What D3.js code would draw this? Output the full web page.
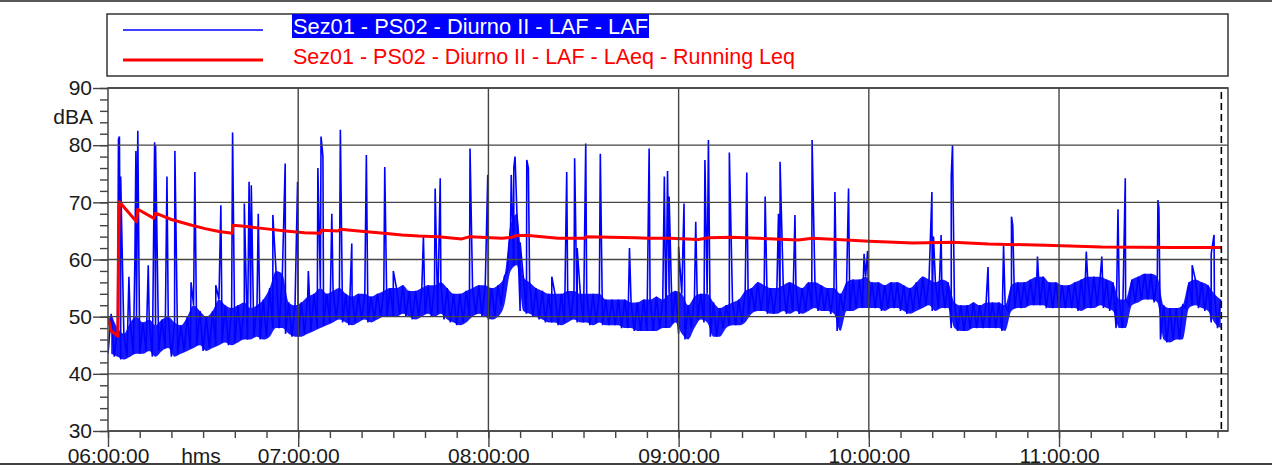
<!DOCTYPE html>
<html>
<head>
<meta charset="utf-8">
<script src="https://cdn.jsdelivr.net/npm/d3@7/dist/d3.min.js"></script>
<style>
  body { margin: 0; background: #fff; }
  svg { display: block; font-family: "Liberation Sans", Arial, sans-serif; }
</style>
</head>
<body>
<div id="chart"></div>
<script>
// series names (legend)
const seriesNames = [
  "Sez01 - PS02 - Diurno II - LAF - LAF",
  "Sez01 - PS02 - Diurno II - LAF - LAeq - Running Leq"
];

// x axis: minutes after 06:00:00
const xTickMinutes = [0, 60, 120, 180, 240, 300];
const xTickLabels = ["06:00:00", "07:00:00", "08:00:00", "09:00:00", "10:00:00", "11:00:00"];
const xMinorStep = 10;
const xMax = 353.3;
const dataEnd = 351.2;

// y axis
const yTicks = [30, 40, 50, 60, 70, 80, 90];
const yMinorStep = 2;
const yUnit = "dBA";
const xUnit = "hms";

// LAF band, one low/high pair every 2 minutes
const bandStep = 2;
const bandLow = [
  43.5, 43, 42.5, 43, 43.5,   43.5, 44, 43, 44, 44.5,
  43, 43.5, 44, 44.5, 45,     44, 44.5, 45, 45.5, 45,
  45.5, 46, 46, 46.5, 46,     46.5, 48, 48, 47, 46.5,
  46.5, 47, 47.5, 48, 48.5,   49, 49.5, 49, 48.5, 49,
  49.5, 49, 49.5, 50, 50,     50, 50.5, 50, 49.5, 50,
  50.5, 50, 50.5, 49.5, 49,   48.5, 49, 50, 50.5, 50,
  49.5, 50, 52, 58, 59,       51, 50.5, 50, 49.5, 49,
  49, 48.5, 49, 49.5, 49,     49, 48.5, 49, 48.5, 48.5,
  48.5, 48, 48, 47.5, 47.5,   47.5, 47.5, 48, 48, 49,
  47, 46, 48, 49.5, 49,       46.5, 46.5, 48, 48.5, 48.5,
  49, 50.5, 51, 51, 50.5,     50.5, 51, 50.5, 51, 50.5,
  51, 51.5, 51, 51, 50.5,     47.5, 51, 51, 51.5, 51.5,
  51.5, 51.5, 51, 51.5, 51.5, 51, 50.5, 51, 51.5, 52,
  51, 51.5, 51.5, 48, 47.5,   47.5, 48, 48, 48, 48,
  48, 47.5, 51, 51.5, 51.5,   52, 52, 52, 51.5, 51.5,
  51.5, 51.5, 51.5, 51, 51.5, 51.5, 52, 51.5, 51, 48,
  48, 52, 52.5, 53, 53,       52.5, 46, 45.5, 46, 46,
  51.5, 52, 51.5, 51, 49, 48
];
const bandHigh = [
  50.5, 48, 47, 49, 50,       49, 49.5, 48.5, 49.5, 50,
  49, 48.5, 50, 52, 51,       50, 51, 53, 52, 51.5,
  52, 52.5, 51.5, 52, 53,     55, 58, 57.5, 52.5, 52,
  52.5, 53.5, 54, 55, 54,     54.5, 55, 54, 53.5, 54,
  54, 53.5, 54, 54.5, 55,     55, 55.5, 54.5, 54.5, 55,
  55.5, 55.5, 56, 55, 54,     54, 54.5, 55, 55.5, 55.5,
  55, 55.5, 57, 66, 68,       57, 56, 55, 54.5, 54,
  54, 54, 54.5, 54.5, 54,     54, 54, 54, 53, 53,
  53, 53, 52.5, 52.5, 53,     53, 53.5, 53, 54, 54.5,
  54, 52, 53.5, 54, 54,       52.5, 51.5, 52, 52.5, 53,
  54.5, 55, 56, 55.5, 55,     55, 55.5, 56, 55.5, 55,
  56, 56, 55.5, 55, 55,       54, 56, 56.5, 56.5, 57,
  56, 56, 55.5, 56, 56,       55.5, 55, 56, 57, 56.5,
  56, 56.5, 56, 52.5, 52,     52, 52.5, 52, 52.5, 52.5,
  52.5, 52, 55.5, 56, 56,     56.5, 57, 57, 56, 56,
  55.5, 55.5, 56, 56.5, 57,   57, 57, 56.5, 56, 53,
  53, 56.5, 57, 57.5, 57.5,   57, 52, 51.5, 51.5, 52,
  56, 56.5, 56, 55.5, 54, 53
];

// LAF short events: [minute, peak dBA]
const spikes = [
  [3.3, 81], [3.6, 81.5], [4.0, 74.5], [6.6, 57], [8.5, 60.8], [8.8, 79], [9.4, 82.5],
  [12.7, 59], [14.7, 80.5], [15.0, 80], [18.6, 74.5], [21.1, 79], [26.2, 56], [27.4, 75.3],
  [34, 55.5], [35.6, 69.5], [39.3, 82.2], [43, 69.8], [44.5, 73.6], [45.2, 73], [47.4, 68],
  [52, 67.8], [55.9, 76.8], [59.8, 73.6], [63.2, 58], [66.2, 76], [67.2, 81.5],
  [67.8, 78], [70.6, 68], [73.3, 82.7], [76.9, 62.8], [81.5, 78.3], [87.3, 76.2],
  [90, 58], [99.5, 64], [103.2, 72.4], [104.8, 74.2], [114.2, 79.4], [119.8, 74.8],
  [127.2, 74.8], [128, 76], [128.4, 78], [130, 63], [132.1, 77.4], [132.6, 76],
  [140, 57], [144.7, 75.3], [147.2, 77.7], [148, 62], [150.7, 80.3], [155.3, 78.5],
  [164.5, 62], [170.7, 79.4], [175.5, 74.5], [176.5, 75.5], [177, 71],
  [180, 62.2], [181.7, 69.8], [185.4, 66.6], [188.3, 77.4], [189.4, 80.9],
  [196, 78.7], [201.5, 75.2], [207.3, 71], [211.5, 68], [212, 77.1], [216.7, 67.8],
  [222.1, 80.9], [229.3, 71.8], [233.6, 72.4], [238.5, 61], [239.6, 61.5],
  [259.9, 71.8], [260.4, 64], [262.8, 64.3],
  [266, 74.5], [266.4, 80], [277.6, 58.7], [282.5, 62.5], [285, 67.5], [285.4, 66],
  [293.2, 60.5], [308.6, 61.4], [313.5, 60.5], [318.6, 68.8], [320.9, 74.2],
  [331.2, 70.4], [331.5, 69], [342, 59], [348, 61], [348.9, 64.3]
];

// Running Leq: [minute, dBA]
const leq = [
  [0, 50], [1, 47.5], [3.1, 46.6], [3.3, 62.4], [3.6, 70.1], [9.0, 66.6], [9.4, 68.8],
  [14.5, 67.2], [15, 68.1], [20, 67.0], [26.4, 66.0], [30.6, 65.4], [35, 64.9],
  [39.2, 64.6], [39.4, 66.0], [43, 65.8], [49.3, 65.4], [56, 65.0], [62, 64.7],
  [67, 64.6], [67.3, 65.1], [72.6, 65.0], [73.3, 65.3], [79, 65.0], [87, 64.6],
  [92.7, 64.3], [98, 64.1], [104.2, 64.0], [111.6, 63.6], [114.2, 64.0], [124.2, 63.7],
  [127.4, 63.9], [129, 64.2], [132.6, 64.2], [142, 63.7], [150.5, 63.7], [150.8, 64.0],
  [166.3, 63.8], [170.5, 63.7], [177.3, 63.7], [186.2, 63.5], [189.4, 63.8],
  [196.7, 63.9], [205, 63.7], [217.8, 63.4], [222.2, 63.7], [230, 63.5], [240, 63.2],
  [254, 62.9], [266.5, 63.0], [277.8, 62.7], [295.7, 62.5], [313.5, 62.2],
  [336.7, 62.1], [351.2, 62.1]
];

const W = 1272, H = 468;
const plot = { left: 108, right: 1228, top: 88, bottom: 431 };
const ink = "#1a1a1a", gridColor = "#444";

const x = d3.scaleLinear().domain([0, xMax]).range([plot.left, plot.right]);
const y = d3.scaleLinear().domain([30, 90]).range([plot.bottom, plot.top]);

const svg = d3.select("#chart").append("svg")
  .attr("width", W).attr("height", H);

// window frame lines
svg.append("line").attr("x1", 0).attr("x2", W).attr("y1", 1).attr("y2", 1)
  .attr("stroke", "#222").attr("stroke-width", 1.5);
svg.append("line").attr("x1", 0).attr("x2", W).attr("y1", 464).attr("y2", 464)
  .attr("stroke", "#000").attr("stroke-width", 1.5);

svg.append("defs").append("clipPath").attr("id", "clip")
  .append("rect").attr("x", plot.left).attr("y", plot.top)
  .attr("width", plot.right - plot.left).attr("height", plot.bottom - plot.top);

// LAF: band + line through low/high pairs and events
var bandPts = bandLow.map((lo, i) => ({ t: i * bandStep, lo: lo, hi: bandHigh[i] }));
var lafPts = [];
bandPts.forEach(d => {
  lafPts.push([d.t, d.lo]);
  lafPts.push([d.t + bandStep / 2, d.hi]);
});
spikes.forEach(s => lafPts.push(s));
lafPts.sort((a, b) => a[0] - b[0]);
lafPts = lafPts.filter(d => d[0] <= dataEnd);

const gData = svg.append("g").attr("clip-path", "url(#clip)");

gData.append("path")
  .datum(bandPts)
  .attr("fill", "#0000ff")
  .attr("fill-opacity", 0.9)
  .attr("d", d3.area().curve(d3.curveMonotoneX)
    .x(d => x(d.t + bandStep / 2)).y0(d => y(d.lo)).y1(d => y(d.hi)));

gData.append("path")
  .datum(lafPts)
  .attr("fill", "none")
  .attr("stroke", "#0000ff")
  .attr("stroke-width", 1.6)
  .attr("d", d3.line().x(d => x(d[0])).y(d => y(d[1])));

// grid
const grid = svg.append("g").attr("stroke", gridColor).attr("stroke-width", 1.4);
grid.selectAll(".h").data(yTicks).join("line")
  .attr("x1", plot.left).attr("x2", plot.right)
  .attr("y1", d => y(d)).attr("y2", d => y(d));
grid.selectAll(".v").data(xTickMinutes.slice(1)).join("line")
  .attr("x1", d => x(d)).attr("x2", d => x(d))
  .attr("y1", plot.top).attr("y2", plot.bottom);

// running Leq
gData.append("path")
  .datum(leq)
  .attr("fill", "none")
  .attr("stroke", "#ff0000")
  .attr("stroke-width", 3)
  .attr("stroke-linejoin", "round")
  .attr("d", d3.line().x(d => x(d[0])).y(d => y(d[1])));

// end-of-data cursor
svg.append("line")
  .attr("x1", x(dataEnd)).attr("x2", x(dataEnd))
  .attr("y1", plot.top + 4).attr("y2", plot.bottom)
  .attr("stroke", "#000").attr("stroke-width", 1.6)
  .attr("stroke-dasharray", "7,4");

// frame
svg.append("rect")
  .attr("x", plot.left).attr("y", plot.top)
  .attr("width", plot.right - plot.left).attr("height", plot.bottom - plot.top)
  .attr("fill", "none").attr("stroke", gridColor).attr("stroke-width", 1.5);

// y axis
var yMinor = d3.range(30, 90.1, yMinorStep);
svg.append("g")
  .attr("transform", "translate(" + plot.left + ",0)")
  .call(d3.axisLeft(y).tickValues(yMinor).tickSize(8).tickFormat(""))
  .call(g => g.select(".domain").remove())
  .call(g => g.selectAll("line").attr("stroke", gridColor).attr("stroke-width", 1.4));

svg.append("g")
  .attr("transform", "translate(" + plot.left + ",0)")
  .call(d3.axisLeft(y).tickValues(yTicks).tickSize(15).tickPadding(1))
  .call(g => g.select(".domain").remove())
  .call(g => g.selectAll("line").attr("stroke", gridColor).attr("stroke-width", 1.4))
  .call(g => g.selectAll("text")
    .attr("fill", ink).attr("font-size", 21)
    .attr("font-family", "'Liberation Sans', Arial, sans-serif"));

svg.append("text")
  .attr("x", 93).attr("y", 124)
  .attr("text-anchor", "end")
  .attr("font-size", 21).attr("fill", ink)
  .text(yUnit);

// x axis
var xMinor = d3.range(0, xMax, xMinorStep);
svg.append("g")
  .attr("transform", "translate(0," + plot.bottom + ")")
  .call(d3.axisBottom(x).tickValues(xMinor).tickSize(7).tickFormat(""))
  .call(g => g.select(".domain").remove())
  .call(g => g.selectAll("line").attr("stroke", gridColor).attr("stroke-width", 1.4));

svg.append("g")
  .attr("transform", "translate(0," + plot.bottom + ")")
  .call(d3.axisBottom(x).tickValues(xTickMinutes).tickSize(16)
    .tickFormat((d, i) => xTickLabels[i]))
  .call(g => g.select(".domain").remove())
  .call(g => g.selectAll("line").attr("stroke", gridColor).attr("stroke-width", 1.4))
  .call(g => g.selectAll("text")
    .attr("y", 32).attr("dy", 0)
    .attr("fill", ink).attr("font-size", 21)
    .attr("font-family", "'Liberation Sans', Arial, sans-serif"));

svg.append("text")
  .attr("x", 201).attr("y", 463)
  .attr("text-anchor", "middle")
  .attr("font-size", 21).attr("fill", ink)
  .text(xUnit);

// legend
const legend = svg.append("g");
legend.append("rect")
  .attr("x", 107).attr("y", 14).attr("width", 1228 - 107).attr("height", 62)
  .attr("fill", "#fff").attr("stroke", "#333").attr("stroke-width", 1.5);

const legendColors = ["#0000ff", "#ff0000"];
const legendWidths = [1.3, 3];
const legendTextLen = [355, 502];
seriesNames.forEach((name, i) => {
  var cy = 30 + i * 30;
  legend.append("line")
    .attr("x1", 123).attr("x2", 263).attr("y1", cy).attr("y2", cy)
    .attr("stroke", legendColors[i]).attr("stroke-width", legendWidths[i]);
  if (i === 0) {
    legend.append("rect")
      .attr("x", 292).attr("y", 14)
      .attr("width", legendTextLen[0] + 2).attr("height", 24)
      .attr("fill", "#0000ff");
  }
  legend.append("text")
    .attr("x", 293).attr("y", cy + 4)
    .attr("font-size", 22)
    .attr("textLength", legendTextLen[i])
    .attr("lengthAdjust", "spacingAndGlyphs")
    .attr("fill", i === 0 ? "#fff" : legendColors[i])
    .text(name);
});
</script>
</body>
</html>
